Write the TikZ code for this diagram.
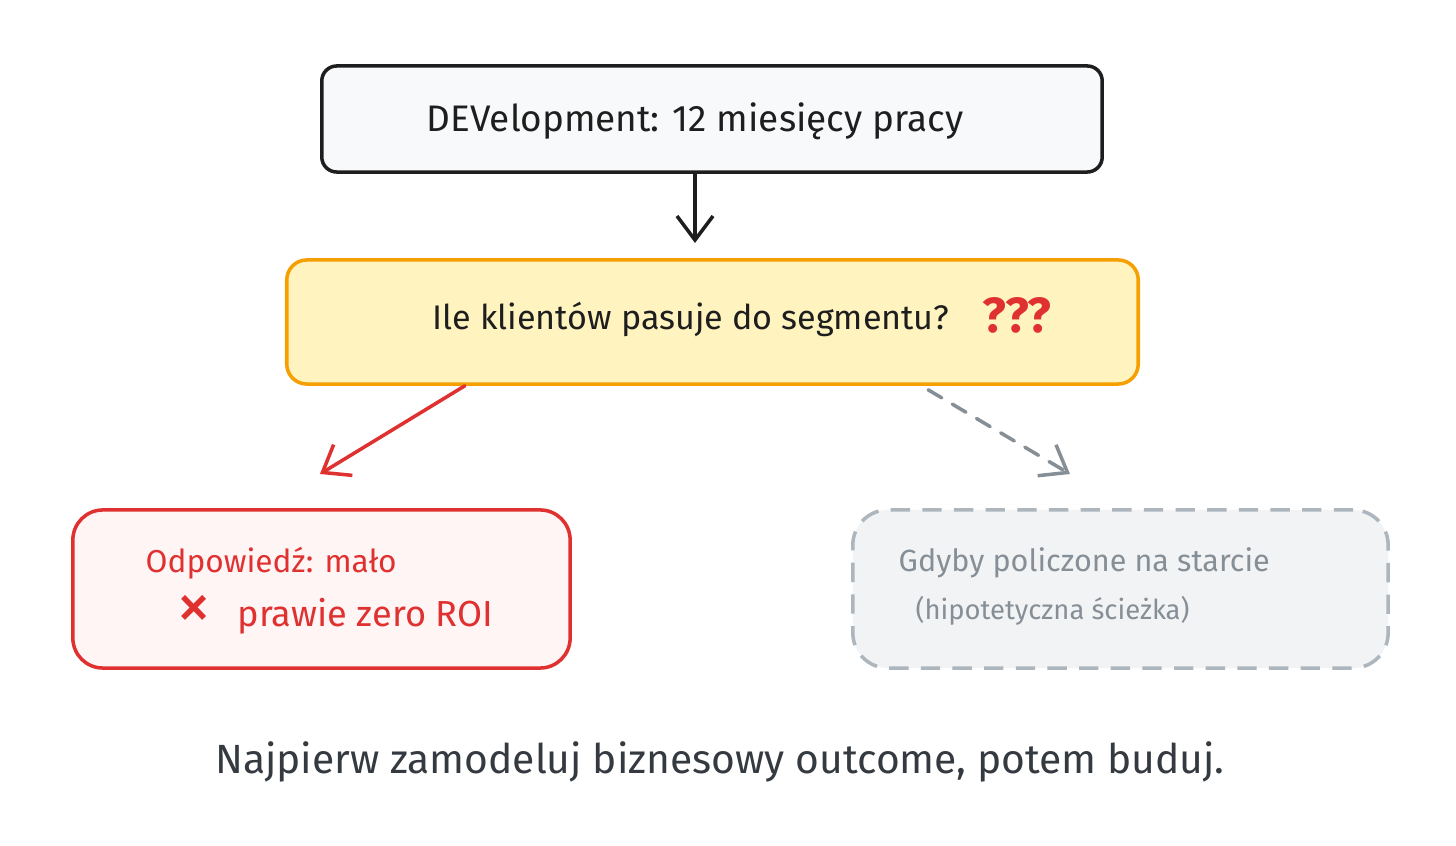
\documentclass[tikz,border=0pt]{standalone}
\usepackage{fontspec}
\setmainfont{Fira Sans}
\usetikzlibrary{arrows.meta}

\definecolor{inkblack}{HTML}{1E1E1E}
\definecolor{devfill}{HTML}{F8F9FA}
\definecolor{segfill}{HTML}{FFF3BF}
\definecolor{segline}{HTML}{F59F00}
\definecolor{oddred}{HTML}{E03131}
\definecolor{oddfill}{HTML}{FFF5F5}
\definecolor{hypfill}{HTML}{F1F3F5}
\definecolor{hypline}{HTML}{ADB5BD}
\definecolor{hyptext}{HTML}{868E96}
\definecolor{notetext}{HTML}{343A40}

\begin{document}
\begin{tikzpicture}[x=0.01cm,y=-0.01cm]
\tikzset{
box/.style={rectangle,line width=1pt,inner sep=0pt},
boxtext/.style={inner sep=0pt,font=\fontsize{10}{12}\selectfont},
smalltext/.style={inner sep=0pt,font=\fontsize{7.8}{10}\selectfont},
myarrow/.style={-{Straight Barb[length=2.4mm,width=3.6mm]}, line width=1pt, line cap=round},
dashedarrow/.style={myarrow, dash pattern=on 4.5pt off 3.5pt},
}
\useasboundingbox[fill=white] (0,0) rectangle (1456,846);

% boxes
\node [box, rounded corners=0.15cm, draw=inkblack, fill=devfill, minimum width=7.8cm, minimum height=1.06cm] (devbox) at (712,119) {};
\node [box, rounded corners=0.2cm, draw=segline, fill=segfill, minimum width=8.51cm, minimum height=1.24cm] (segbox) at (712.5,322) {};
\node [box, rounded corners=0.3cm, draw=oddred, fill=oddfill, minimum width=4.97cm, minimum height=1.58cm] (oddbox) at (321.5,589) {};
\node [box, rounded corners=0.35cm, draw=hypline, fill=hypfill, dash pattern=on 5.5pt off 3.5pt, minimum width=5.35cm, minimum height=1.58cm] (hypbox) at (1120.5,589) {};

% texts
\node [boxtext, anchor=base, text=inkblack, font=\fontsize{10.5}{12}\selectfont] (devtext) at (695,132) {DEVelopment: 12 miesięcy pracy};
\node [boxtext, anchor=base west, text=inkblack, font=\fontsize{9.7}{12}\selectfont] (segtext) at (432,330) {Ile klientów pasuje do segmentu?};
\node [boxtext, anchor=base west, text=oddred, font=\fontsize{14}{16}\selectfont\bfseries] (qmarks) at (982,333) {???};
\node [boxtext, anchor=base west, text=oddred, font=\fontsize{9}{12}\selectfont] (oddtext) at (145,573) {Odpowiedź: mało};
\node [boxtext, anchor=base west, text=oddred, font=\fontsize{20}{22}\selectfont] (oddcross) at (176,630) {×};
\node [boxtext, anchor=base west, text=oddred, font=\fontsize{10.3}{12}\selectfont] (oddroi) at (237,627) {prawie zero ROI};
\node [boxtext, anchor=base west, text=hyptext, font=\fontsize{8.7}{11}\selectfont] (hyptitle) at (898,572) {Gdyby policzone na starcie};
\node [smalltext, anchor=base west, text=hyptext] (hypnote) at (915,620) {(hipotetyczna ścieżka)};
\node [boxtext, anchor=base, text=notetext, font=\fontsize{11.6}{14}\selectfont] (moral) at (720,774) {Najpierw zamodeluj biznesowy outcome, potem buduj.};

% arrow ends
\coordinate (segtop) at (695,243);
\coordinate (oddtip) at (320,474);
\coordinate (hyptip) at (1070,474);

% connectors
\draw[myarrow, inkblack] (devbox.south -| segtop) -- (segtop);
\draw[myarrow, oddred] ([xshift=-2.475cm]segbox.south) -- (oddtip);
\draw[dashedarrow, hyptext] ([xshift=2.155cm,yshift=-0.04cm]segbox.south) -- (hyptip);
\end{tikzpicture}
\end{document}
